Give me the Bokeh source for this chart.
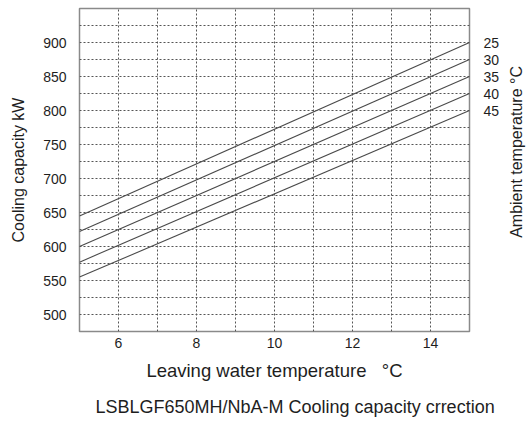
import math
from bokeh.plotting import figure
from bokeh.models import LinearAxis, FixedTicker, Range1d
from bokeh.layouts import row, column
from bokeh.core.properties import value
from bokeh.embed import file_html
from bokeh.resources import INLINE

# Data
water_temp = [5, 15]
ambient = ["25", "30", "35", "40", "45"]
cap_25 = [645, 900]
cap_30 = [622, 875]
cap_35 = [600, 850]
cap_40 = [577, 825]
cap_45 = [555, 800]
series = [cap_25, cap_30, cap_35, cap_40, cap_45]
x_ticks = [6, 8, 10, 12, 14]
y_ticks = [500, 550, 600, 650, 700, 750, 800, 850, 900]
x_grid = [6, 7, 8, 9, 10, 11, 12, 13, 14]
y_grid = [500, 525, 550, 575, 600, 625, 650, 675, 700, 725, 750, 775, 800, 825, 850, 875, 900, 925]
X_MIN, X_MAX = 5, 15
Y_MIN, Y_MAX = 475, 950
right_title_text = "Ambient temperature \u00b0C"
subtitle_text = "LSBLGF650MH/NbA-M Cooling capacity crrection"

FONT = "Liberation Sans"
TXT = "#1e1e1e"

MAIN_W, MAIN_H = 502, 385
SIDE_W = 24
SUB_H = 33

p = figure(width=MAIN_W, height=MAIN_H, output_backend="svg", toolbar_location=None,
           x_range=Range1d(X_MIN, X_MAX), y_range=Range1d(Y_MIN, Y_MAX),
           min_border_left=79, min_border_right=30, min_border_top=8, min_border_bottom=54)
p.background_fill_color = "white"
p.border_fill_color = "white"
p.outline_line_color = "#8a8a8a"
p.outline_line_width = 1.5

for ys in series:
    p.line(water_temp, ys, line_color="#4a4a4a", line_width=1.1)

# axes
p.xaxis.ticker = FixedTicker(ticks=x_ticks)
p.yaxis.ticker = FixedTicker(ticks=y_ticks)
for ax in (p.xaxis[0], p.yaxis[0]):
    ax.axis_line_color = None
    ax.major_tick_line_color = None
    ax.minor_tick_line_color = None
    ax.major_label_text_font = FONT
    ax.major_label_text_font_size = "14px"
    ax.major_label_text_color = TXT
    ax.axis_label_text_font = FONT
    ax.axis_label_text_font_style = "normal"
    ax.axis_label_text_color = TXT

p.xaxis.axis_label = "Leaving water temperature\u00a0\u00a0\u00a0\u00b0C"
p.xaxis.axis_label_text_font_size = "18.5px"
p.xaxis.major_label_standoff = 0
p.xaxis.axis_label_standoff = 9
p.yaxis.axis_label = "Cooling capacity kW"
p.yaxis.axis_label_text_font_size = "16px"
p.yaxis.major_label_standoff = 7
p.yaxis.axis_label_standoff = 13

right = LinearAxis(ticker=FixedTicker(ticks=[s[-1] for s in series]),
                   major_label_overrides={s[-1]: a for s, a in zip(series, ambient)})
right.axis_line_color = None
right.major_tick_line_color = None
right.minor_tick_line_color = None
right.major_label_text_font = FONT
right.major_label_text_font_size = "14px"
right.major_label_text_color = TXT
right.major_label_standoff = 8
p.add_layout(right, "right")

# grids
p.xgrid.ticker = FixedTicker(ticks=x_grid)
p.ygrid.ticker = FixedTicker(ticks=y_grid)
for g in (p.xgrid[0], p.ygrid[0]):
    g.grid_line_color = "#555555"
    g.grid_line_dash = "2 2"
    g.grid_line_width = 1


def blank(w, h):
    f = figure(width=w, height=h, output_backend="svg", toolbar_location=None,
               x_range=Range1d(0, w), y_range=Range1d(0, h),
               x_axis_type=None, y_axis_type=None,
               min_border=0, min_border_left=0, min_border_right=0,
               min_border_top=0, min_border_bottom=0)
    f.outline_line_color = None
    f.grid.visible = False
    f.background_fill_color = "white"
    f.border_fill_color = "white"
    return f


# right-side title (reads bottom to top)
q = blank(SIDE_W, MAIN_H)
q.text(x=[13.5], y=[MAIN_H - 171], text=[right_title_text], angle=math.pi / 2,
       text_font=value(FONT), text_font_size="16px", text_color=TXT,
       text_align="center", text_baseline="middle")

# subtitle below
r = blank(MAIN_W + SIDE_W, SUB_H)
r.text(x=[95], y=[SUB_H - 21], text=[subtitle_text],
       text_font=value(FONT), text_font_size="18px", text_color=TXT,
       text_align="left", text_baseline="middle")

layout = column(row(p, q, spacing=0), r, spacing=0)
open("out.html", "w").write(file_html(layout, INLINE))
